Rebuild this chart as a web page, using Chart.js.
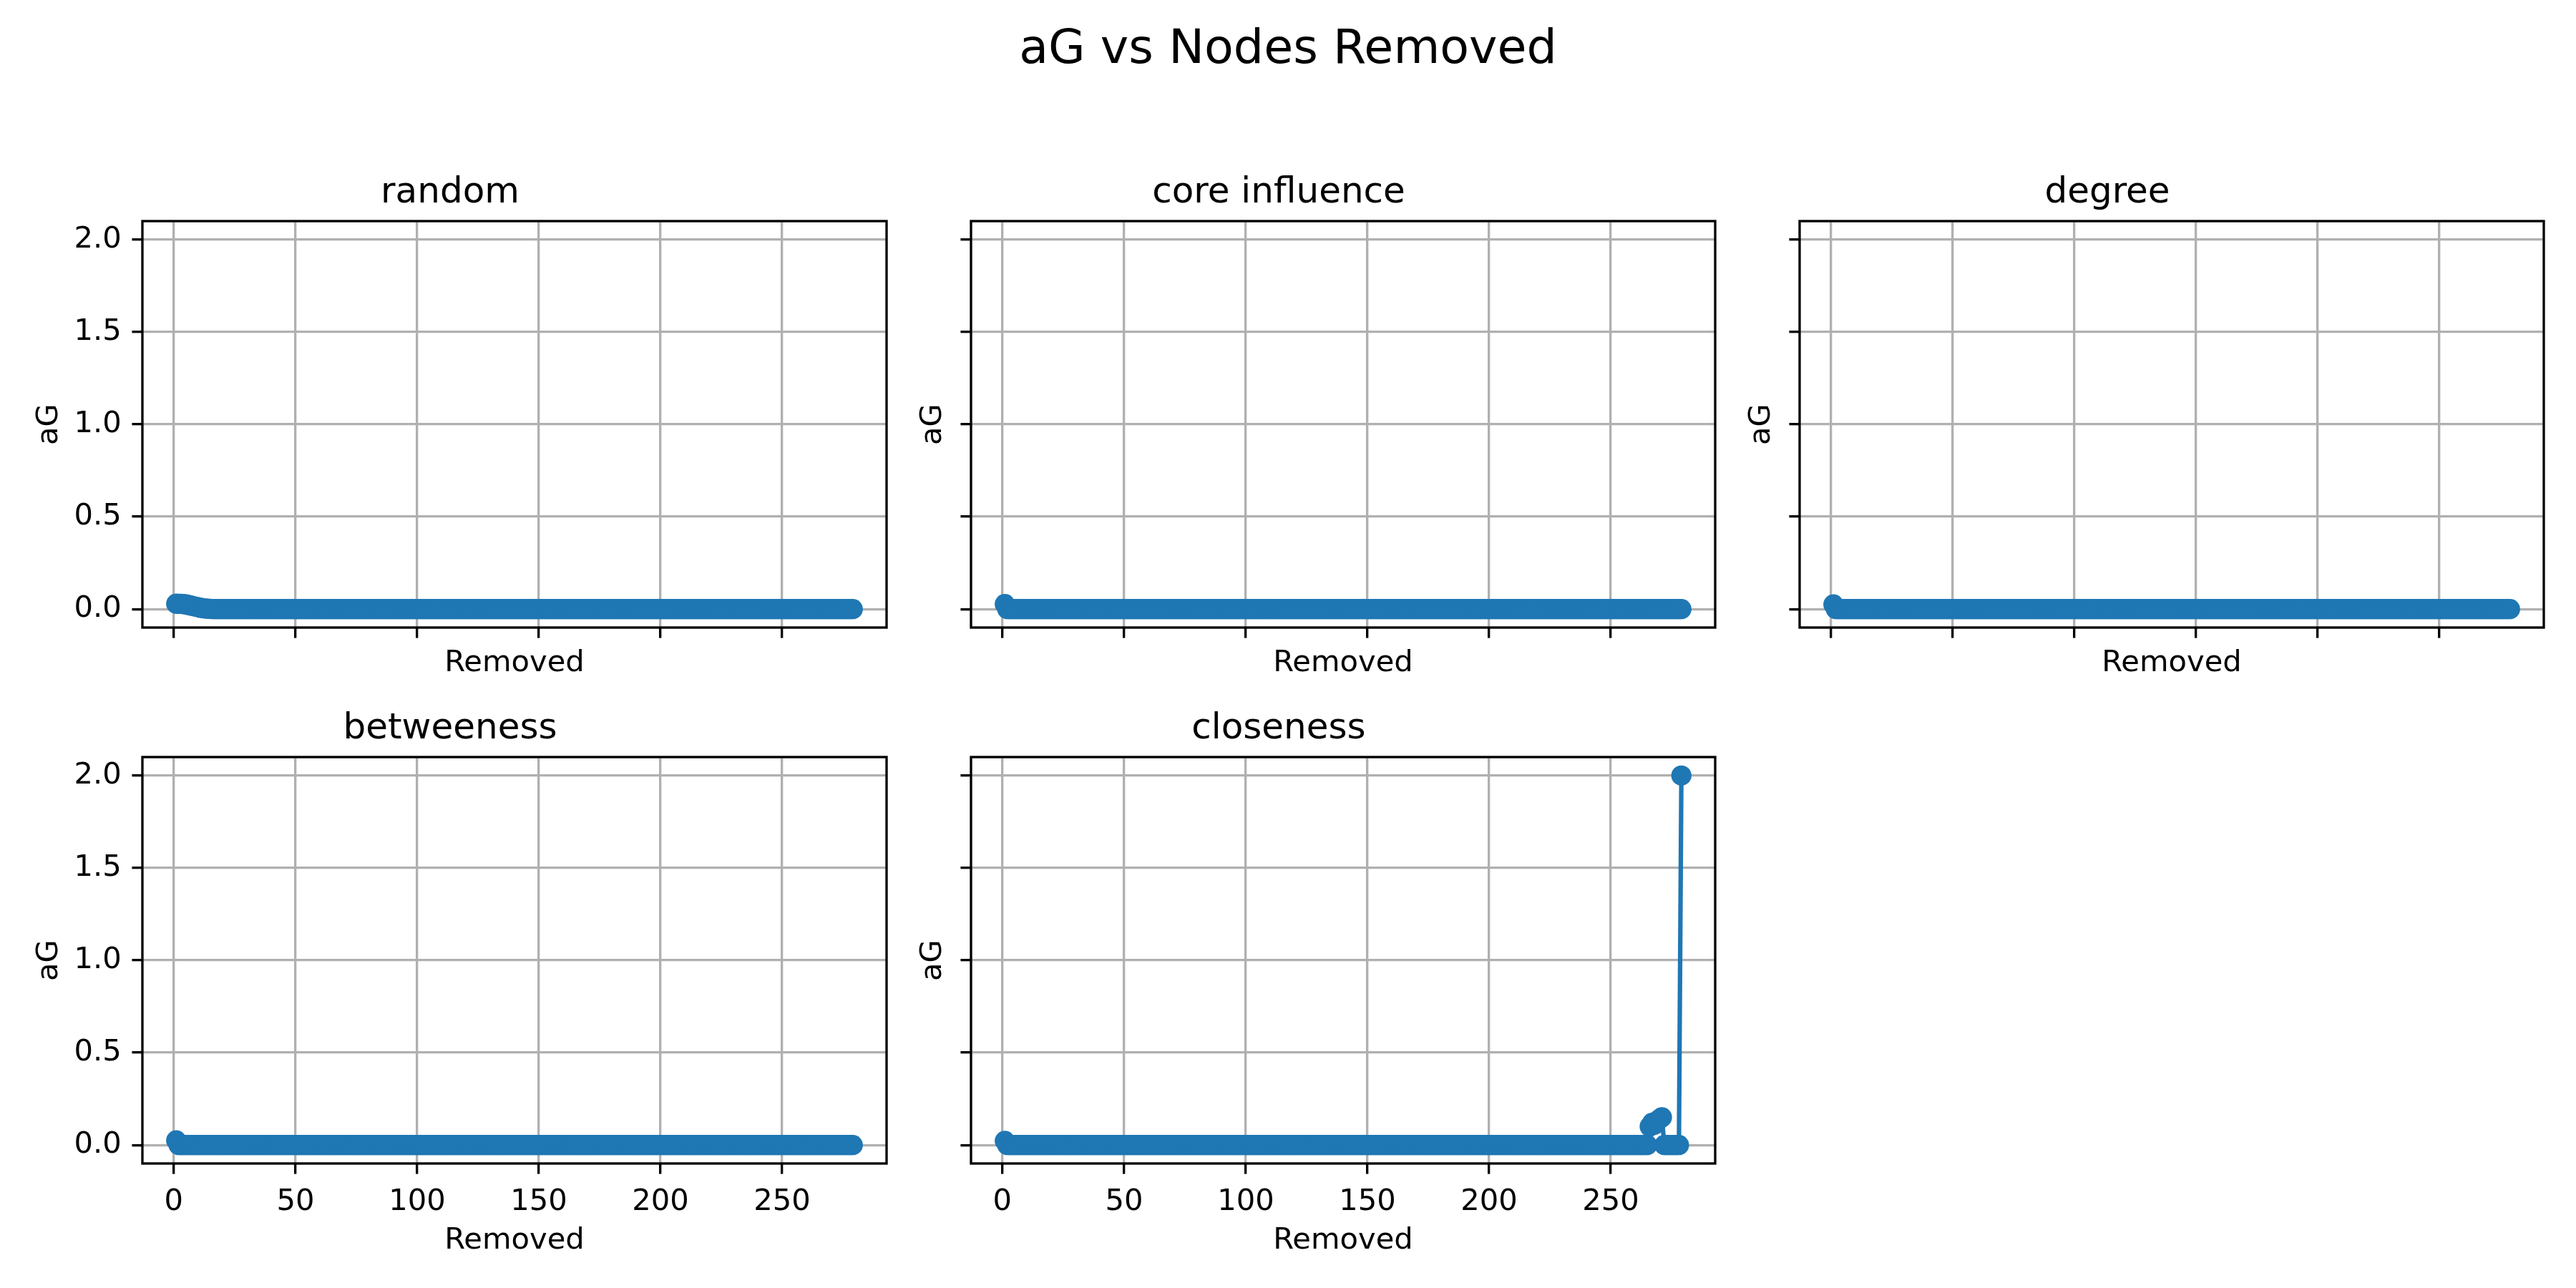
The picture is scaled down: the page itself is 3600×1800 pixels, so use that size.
<!DOCTYPE html>
<html>
<head>
<meta charset="utf-8">
<script src="https://cdn.jsdelivr.net/npm/chart.js@4.4.1/dist/chart.umd.min.js"></script>
<style>
html, body { margin: 0; padding: 0; background: #ffffff; }
#fig { position: relative; width: 3600px; height: 1800px; background: #ffffff; overflow: hidden; }
#sup { position: absolute; left: 0; top: 32px; width: 3600px; text-align: center;
       font-family: 'DejaVu Sans'; font-size: 66.67px; line-height: 66.67px; color: #000; white-space: nowrap; }
canvas { position: absolute; }
</style>
</head>
<body>
<div id="fig"><div id="sup">aG vs Nodes Removed</div></div>
<script>
// ---------------- DATA ----------------
const suptitleText = 'aG vs Nodes Removed';
const xAxisLabel = 'Removed';
const yAxisLabel = 'aG';
const panelTitles = ['random', 'core influence', 'degree', 'betweeness', 'closeness'];
const xTicks = [0, 50, 100, 150, 200, 250];
const yTicks = [0, 0.5, 1.0, 1.5, 2.0];

// number of nodes removed (x)
const removed = [
  1,2,3,4,5,6,7,8,9,10,11,12,13,14,15,16,17,18,19,20,
  21,22,23,24,25,26,27,28,29,30,31,32,33,34,35,36,37,38,39,40,
  41,42,43,44,45,46,47,48,49,50,51,52,53,54,55,56,57,58,59,60,
  61,62,63,64,65,66,67,68,69,70,71,72,73,74,75,76,77,78,79,80,
  81,82,83,84,85,86,87,88,89,90,91,92,93,94,95,96,97,98,99,100,
  101,102,103,104,105,106,107,108,109,110,111,112,113,114,115,116,117,118,119,120,
  121,122,123,124,125,126,127,128,129,130,131,132,133,134,135,136,137,138,139,140,
  141,142,143,144,145,146,147,148,149,150,151,152,153,154,155,156,157,158,159,160,
  161,162,163,164,165,166,167,168,169,170,171,172,173,174,175,176,177,178,179,180,
  181,182,183,184,185,186,187,188,189,190,191,192,193,194,195,196,197,198,199,200,
  201,202,203,204,205,206,207,208,209,210,211,212,213,214,215,216,217,218,219,220,
  221,222,223,224,225,226,227,228,229,230,231,232,233,234,235,236,237,238,239,240,
  241,242,243,244,245,246,247,248,249,250,251,252,253,254,255,256,257,258,259,260,
  261,262,263,264,265,266,267,268,269,270,271,272,273,274,275,276,277,278,279
];

const agRandom = [
  0.029,0.028,0.028,0.027,0.025,0.022,0.019,0.016,0.013,0.010,0.007,0.005,0.003,0.002,0.001,0,0,0,0,0,
  0,0,0,0,0,0,0,0,0,0,0,0,0,0,0,0,0,0,0,0,
  0,0,0,0,0,0,0,0,0,0,0,0,0,0,0,0,0,0,0,0,
  0,0,0,0,0,0,0,0,0,0,0,0,0,0,0,0,0,0,0,0,
  0,0,0,0,0,0,0,0,0,0,0,0,0,0,0,0,0,0,0,0,
  0,0,0,0,0,0,0,0,0,0,0,0,0,0,0,0,0,0,0,0,
  0,0,0,0,0,0,0,0,0,0,0,0,0,0,0,0,0,0,0,0,
  0,0,0,0,0,0,0,0,0,0,0,0,0,0,0,0,0,0,0,0,
  0,0,0,0,0,0,0,0,0,0,0,0,0,0,0,0,0,0,0,0,
  0,0,0,0,0,0,0,0,0,0,0,0,0,0,0,0,0,0,0,0,
  0,0,0,0,0,0,0,0,0,0,0,0,0,0,0,0,0,0,0,0,
  0,0,0,0,0,0,0,0,0,0,0,0,0,0,0,0,0,0,0,0,
  0,0,0,0,0,0,0,0,0,0,0,0,0,0,0,0,0,0,0,0,
  0,0,0,0,0,0,0,0,0,0,0,0,0,0,0,0,0,0,0
];

const agCoreInfluence = [
  0.027,0,0,0,0,0,0,0,0,0,0,0,0,0,0,0,0,0,0,0,
  0,0,0,0,0,0,0,0,0,0,0,0,0,0,0,0,0,0,0,0,
  0,0,0,0,0,0,0,0,0,0,0,0,0,0,0,0,0,0,0,0,
  0,0,0,0,0,0,0,0,0,0,0,0,0,0,0,0,0,0,0,0,
  0,0,0,0,0,0,0,0,0,0,0,0,0,0,0,0,0,0,0,0,
  0,0,0,0,0,0,0,0,0,0,0,0,0,0,0,0,0,0,0,0,
  0,0,0,0,0,0,0,0,0,0,0,0,0,0,0,0,0,0,0,0,
  0,0,0,0,0,0,0,0,0,0,0,0,0,0,0,0,0,0,0,0,
  0,0,0,0,0,0,0,0,0,0,0,0,0,0,0,0,0,0,0,0,
  0,0,0,0,0,0,0,0,0,0,0,0,0,0,0,0,0,0,0,0,
  0,0,0,0,0,0,0,0,0,0,0,0,0,0,0,0,0,0,0,0,
  0,0,0,0,0,0,0,0,0,0,0,0,0,0,0,0,0,0,0,0,
  0,0,0,0,0,0,0,0,0,0,0,0,0,0,0,0,0,0,0,0,
  0,0,0,0,0,0,0,0,0,0,0,0,0,0,0,0,0,0,0
];

const agDegree = [
  0.025,0,0,0,0,0,0,0,0,0,0,0,0,0,0,0,0,0,0,0,
  0,0,0,0,0,0,0,0,0,0,0,0,0,0,0,0,0,0,0,0,
  0,0,0,0,0,0,0,0,0,0,0,0,0,0,0,0,0,0,0,0,
  0,0,0,0,0,0,0,0,0,0,0,0,0,0,0,0,0,0,0,0,
  0,0,0,0,0,0,0,0,0,0,0,0,0,0,0,0,0,0,0,0,
  0,0,0,0,0,0,0,0,0,0,0,0,0,0,0,0,0,0,0,0,
  0,0,0,0,0,0,0,0,0,0,0,0,0,0,0,0,0,0,0,0,
  0,0,0,0,0,0,0,0,0,0,0,0,0,0,0,0,0,0,0,0,
  0,0,0,0,0,0,0,0,0,0,0,0,0,0,0,0,0,0,0,0,
  0,0,0,0,0,0,0,0,0,0,0,0,0,0,0,0,0,0,0,0,
  0,0,0,0,0,0,0,0,0,0,0,0,0,0,0,0,0,0,0,0,
  0,0,0,0,0,0,0,0,0,0,0,0,0,0,0,0,0,0,0,0,
  0,0,0,0,0,0,0,0,0,0,0,0,0,0,0,0,0,0,0,0,
  0,0,0,0,0,0,0,0,0,0,0,0,0,0,0,0,0,0,0
];

const agBetweeness = [
  0.025,0,0,0,0,0,0,0,0,0,0,0,0,0,0,0,0,0,0,0,
  0,0,0,0,0,0,0,0,0,0,0,0,0,0,0,0,0,0,0,0,
  0,0,0,0,0,0,0,0,0,0,0,0,0,0,0,0,0,0,0,0,
  0,0,0,0,0,0,0,0,0,0,0,0,0,0,0,0,0,0,0,0,
  0,0,0,0,0,0,0,0,0,0,0,0,0,0,0,0,0,0,0,0,
  0,0,0,0,0,0,0,0,0,0,0,0,0,0,0,0,0,0,0,0,
  0,0,0,0,0,0,0,0,0,0,0,0,0,0,0,0,0,0,0,0,
  0,0,0,0,0,0,0,0,0,0,0,0,0,0,0,0,0,0,0,0,
  0,0,0,0,0,0,0,0,0,0,0,0,0,0,0,0,0,0,0,0,
  0,0,0,0,0,0,0,0,0,0,0,0,0,0,0,0,0,0,0,0,
  0,0,0,0,0,0,0,0,0,0,0,0,0,0,0,0,0,0,0,0,
  0,0,0,0,0,0,0,0,0,0,0,0,0,0,0,0,0,0,0,0,
  0,0,0,0,0,0,0,0,0,0,0,0,0,0,0,0,0,0,0,0,
  0,0,0,0,0,0,0,0,0,0,0,0,0,0,0,0,0,0,0
];

const agCloseness = [
  0.022,0,0,0,0,0,0,0,0,0,0,0,0,0,0,0,0,0,0,0,
  0,0,0,0,0,0,0,0,0,0,0,0,0,0,0,0,0,0,0,0,
  0,0,0,0,0,0,0,0,0,0,0,0,0,0,0,0,0,0,0,0,
  0,0,0,0,0,0,0,0,0,0,0,0,0,0,0,0,0,0,0,0,
  0,0,0,0,0,0,0,0,0,0,0,0,0,0,0,0,0,0,0,0,
  0,0,0,0,0,0,0,0,0,0,0,0,0,0,0,0,0,0,0,0,
  0,0,0,0,0,0,0,0,0,0,0,0,0,0,0,0,0,0,0,0,
  0,0,0,0,0,0,0,0,0,0,0,0,0,0,0,0,0,0,0,0,
  0,0,0,0,0,0,0,0,0,0,0,0,0,0,0,0,0,0,0,0,
  0,0,0,0,0,0,0,0,0,0,0,0,0,0,0,0,0,0,0,0,
  0,0,0,0,0,0,0,0,0,0,0,0,0,0,0,0,0,0,0,0,
  0,0,0,0,0,0,0,0,0,0,0,0,0,0,0,0,0,0,0,0,
  0,0,0,0,0,0,0,0,0,0,0,0,0,0,0,0,0,0,0,0,
  0,0,0,0,0,0.10,0.12,0.11,0.13,0.14,0.15,0,0,0,0,0,0,0,2.0
];

const seriesList = [agRandom, agCoreInfluence, agDegree, agBetweeness, agCloseness];
seriesList.forEach((s, i) => {
  if (s.length !== removed.length) throw new Error('length mismatch in series ' + i + ': ' + s.length);
});

// ---------------- STYLE / LAYOUT ----------------
const PT = 300 / 72;               // figure rendered at 300 dpi
const BLUE = '#1f77b4';
const GRID = '#b0b0b0';
const colLeft = [199, 1357, 2515];
const rowTop = [309, 1058];
const PW = 1040, PH = 568;         // plot area size
const YW = 180, XH = 140, TH = 120, RP = 20;

document.getElementById('sup').textContent = suptitleText;

Chart.defaults.font.family = "'DejaVu Sans'";
Chart.defaults.color = '#000';

// matplotlib-like autoscale margins (5%), shared across panels
const allY = seriesList.flat();
const xLo = Math.min(...removed), xHi = Math.max(...removed);
const yLo = Math.min(...allY), yHi = Math.max(...allY);
const xMin = xLo - 0.05 * (xHi - xLo), xMax = xHi + 0.05 * (xHi - xLo);
const yMin = yLo - 0.05 * (yHi - yLo), yMax = yHi + 0.05 * (yHi - yLo);

const framePlugin = {
  id: 'frame',
  afterDatasetsDraw(chart) {
    const a = chart.chartArea, ctx = chart.ctx;
    ctx.save();
    ctx.strokeStyle = '#000';
    ctx.lineWidth = 0.8 * PT;
    ctx.lineJoin = 'miter';
    ctx.strokeRect(a.left, a.top, a.right - a.left, a.bottom - a.top);
    ctx.restore();
  }
};

const panels = [
  { s: 0, col: 0, row: 0 },
  { s: 1, col: 1, row: 0 },
  { s: 2, col: 2, row: 0 },
  { s: 3, col: 0, row: 1 },
  { s: 4, col: 1, row: 1 }
];

const fig = document.getElementById('fig');
const TITLE_PAD_TOP = 51;

panels.forEach(p => {
  const showY = p.col === 0;
  const showX = p.row === 1;
  const cv = document.createElement('canvas');
  const cw = YW + PW + RP, ch = TH + PH + XH;
  cv.width = cw; cv.height = ch;
  cv.style.left = (colLeft[p.col] - YW) + 'px';
  cv.style.top = (rowTop[p.row] - TH) + 'px';
  cv.style.width = cw + 'px';
  cv.style.height = ch + 'px';
  fig.appendChild(cv);

  const values = seriesList[p.s];
  const pts = removed.map((x, i) => ({ x: x, y: values[i] }));

  new Chart(cv.getContext('2d'), {
    type: 'line',
    data: {
      datasets: [{
        data: pts,
        borderColor: BLUE,
        backgroundColor: BLUE,
        borderWidth: 1.5 * PT,
        borderJoinStyle: 'round',
        pointRadius: 3 * PT + 0.5 * PT * 0.8,
        pointBorderWidth: 0,
        pointBackgroundColor: BLUE,
        pointHoverRadius: 3 * PT + 0.5 * PT * 0.8,
        tension: 0,
        fill: false
      }]
    },
    options: {
      responsive: false,
      devicePixelRatio: 1,
      animation: false,
      events: [],
      layout: { padding: { left: 0, top: 0, right: RP, bottom: 0 } },
      plugins: {
        legend: { display: false },
        tooltip: { enabled: false },
        title: {
          display: true,
          text: panelTitles[p.s],
          font: { size: 12 * PT, weight: 'normal', lineHeight: 1.2 },
          color: '#000',
          padding: { top: TITLE_PAD_TOP, bottom: TH - TITLE_PAD_TOP - 12 * PT * 1.2 }
        }
      },
      scales: {
        x: {
          type: 'linear',
          min: xMin, max: xMax,
          bounds: 'data',
          afterBuildTicks: s => { s.ticks = xTicks.map(v => ({ value: v })); },
          afterFit: s => { s.height = XH; },
          ticks: {
            autoSkip: false, maxRotation: 0, minRotation: 0,
            padding: 3.5 * PT,
            font: { size: 10 * PT },
            color: '#000',
            callback: v => showX ? String(v) : ''
          },
          grid: {
            color: GRID, lineWidth: 0.8 * PT,
            drawTicks: true, tickLength: 3.5 * PT, tickColor: '#000', tickWidth: 0.8 * PT
          },
          border: { display: false },
          title: {
            display: true, text: xAxisLabel,
            font: { size: 10 * PT, lineHeight: 1.2 },
            color: '#000',
            padding: { top: 0, bottom: showX ? 7 : 65 }
          }
        },
        y: {
          type: 'linear',
          min: yMin, max: yMax,
          bounds: 'data',
          afterBuildTicks: s => { s.ticks = yTicks.map(v => ({ value: v })); },
          afterFit: s => { s.width = YW; },
          ticks: {
            autoSkip: false,
            padding: 3.5 * PT,
            font: { size: 10 * PT },
            color: '#000',
            callback: v => showY ? Number(v).toFixed(1) : ''
          },
          grid: {
            color: GRID, lineWidth: 0.8 * PT,
            drawTicks: true, tickLength: 3.5 * PT, tickColor: '#000', tickWidth: 0.8 * PT
          },
          border: { display: false },
          title: {
            display: true, text: yAxisLabel,
            font: { size: 10 * PT, lineHeight: 1.2 },
            color: '#000',
            padding: { top: showY ? 25 : 102, bottom: 0 }
          }
        }
      }
    },
    plugins: [framePlugin]
  });
});
</script>
</body>
</html>
